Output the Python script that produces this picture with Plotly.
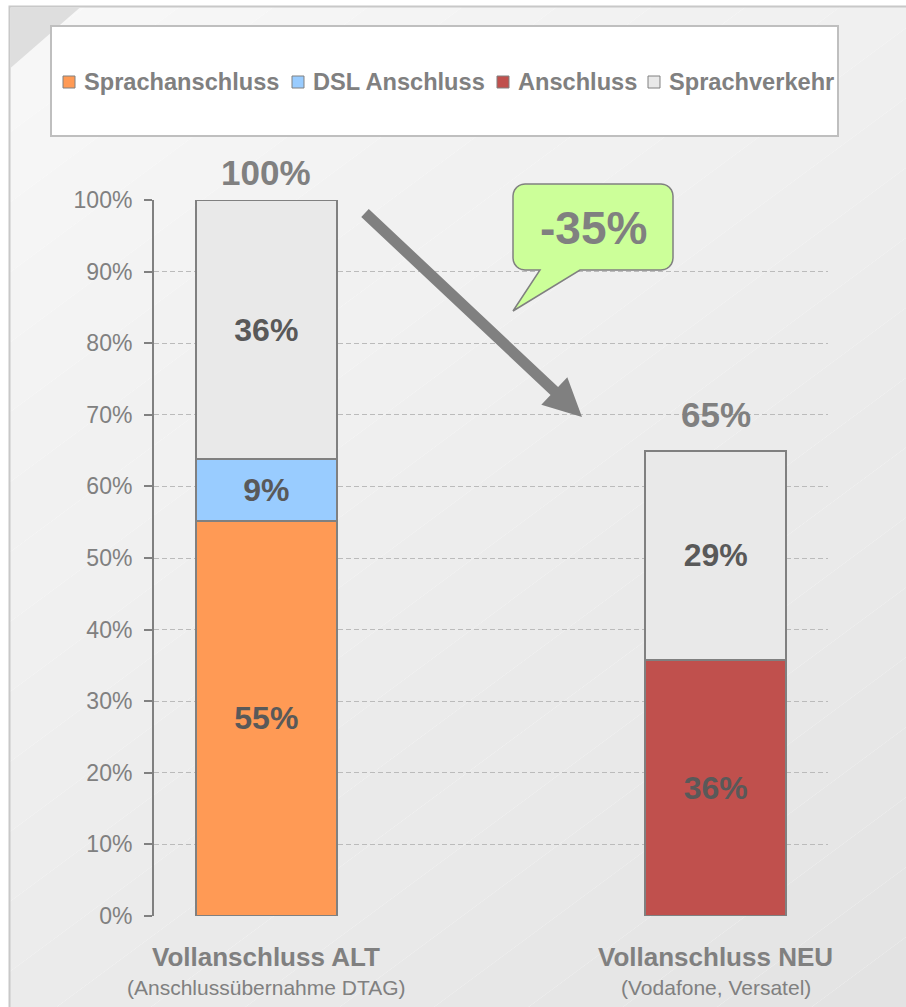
import plotly.graph_objects as go
import math

# ---------------- data ----------------
categories = ["Vollanschluss ALT", "Vollanschluss NEU"]
subtitles = ["(Anschlussübernahme DTAG)", "(Vodafone, Versatel)"]
series_names = ["Sprachanschluss", "DSL Anschluss", "Anschluss", "Sprachverkehr"]
sprachanschluss = [55.2, None]
dsl_anschluss = [8.6, None]
anschluss = [None, 35.7]
sprachverkehr = [36.2, 29.3]
change_label = "-35%"
y_tickvals = [0, 10, 20, 30, 40, 50, 60, 70, 80, 90, 100]
y_ticktext = ["0%", "10%", "20%", "30%", "40%", "50%", "60%", "70%", "80%", "90%", "100%"]

# ---------------- styles ----------------
colors = ["#FF9A55", "#99CCFF", "#C0504D", "#E9E9E9"]
FONT = "Liberation Sans, Arial, sans-serif"
GREY = "#808080"
DARK = "#595959"

W, H = 906, 1007
L, R, T, B = 154, 78, 200, 91
PW = W - L - R
PH = H - T - B
BOTTOM = H - B


def P(px, py):
    return (px - L) / PW, (BOTTOM - py) / PH


def path(points, close=True):
    s = ""
    for i, (px, py) in enumerate(points):
        x, y = P(px, py)
        s += ("M" if i == 0 else "L") + f"{x:.5f},{y:.5f} "
    return s + ("Z" if close else "")


fig = go.Figure()
series_values = [sprachanschluss, dsl_anschluss, anschluss, sprachverkehr]
for name, vals, col in zip(series_names, series_values, colors):
    fig.add_trace(go.Bar(
        x=[0, 1], y=vals, name=name, width=0.314,
        marker=dict(color=col, line=dict(color=GREY, width=2)),
        texttemplate="%{value:.0f}%", textposition="inside",
        insidetextanchor="middle", constraintext="none",
        textfont=dict(family=FONT, size=32, color=DARK, weight="bold"),
        showlegend=False, hoverinfo="skip",
    ))

shapes = []
# background gradient (diagonal bands)
n = 24
c0, c1 = 248, 227
for i in range(n):
    a = i / n - (0.5 if i == 0 else 0)
    b = (i + 1) / n + (0.5 if i == n - 1 else 0)

    def yl(c, x):
        return (c - 0.4 * x / W) * H / 0.6

    xs0, xs1 = -60, W + 60
    pts = [(xs0, yl(a, xs0)), (xs1, yl(a, xs1)), (xs1, yl(b, xs1)), (xs0, yl(b, xs0))]
    g = round(c0 + (c1 - c0) * (i + 0.5) / n)
    shapes.append(dict(type="path", path=path(pts), xref="paper", yref="paper",
                       fillcolor=f"rgb({g},{g},{g})", line=dict(width=0), layer="below"))
# white outside frame
for pts in ([(-20, -20), (9, -20), (9, H + 20), (-20, H + 20)],
            [(-20, -20), (W + 20, -20), (W + 20, 6), (-20, 6)]):
    shapes.append(dict(type="path", path=path(pts), xref="paper", yref="paper",
                       fillcolor="white", line=dict(width=0), layer="below"))
# frame border
shapes.append(dict(type="path", path=path([(9.5, H + 20), (9.5, 6.5), (W + 20, 6.5)], close=False),
                   xref="paper", yref="paper", line=dict(color="#C8C8C8", width=2), layer="below"))
# page corner
shapes.append(dict(type="path", path=path([(10.5, 7.5), (80, 7.5), (10.5, 68)]),
                   xref="paper", yref="paper", fillcolor="#DEDEDE", line=dict(width=0), layer="below"))
# legend box
shapes.append(dict(type="path", path=path([(51, 26), (838, 26), (838, 136), (51, 136)]),
                   xref="paper", yref="paper", fillcolor="white",
                   line=dict(color="#BFBFBF", width=2), layer="below"))

annotations = []
# legend entries
legend_sym_x = [63, 292, 497, 648]
for name, col, sx in zip(series_names, colors, legend_sym_x):
    shapes.append(dict(type="path", path=path([(sx, 76), (sx + 12, 76), (sx + 12, 88), (sx, 88)]),
                       xref="paper", yref="paper", fillcolor=col,
                       line=dict(color=GREY, width=1), layer="above"))
    x, y = P(sx + 19, 82)
    annotations.append(dict(x=x, y=y, xref="paper", yref="paper", text=name, showarrow=False,
                            xanchor="left", yanchor="middle",
                            font=dict(family=FONT, size=23.6, color=GREY, weight="bold")))

# totals above bars
totals = [sum(v for v in (s[i] for s in series_values) if v is not None) for i in range(2)]
total_shift = [28, 36]
for i, (tot, sh) in enumerate(zip(totals, total_shift)):
    annotations.append(dict(x=i, y=tot, xref="x", yref="y", text=f"{tot:.0f}%", showarrow=False,
                            yanchor="middle", yshift=sh,
                            font=dict(family=FONT, size=35, color=GREY, weight="bold")))

# category labels
for i, (cat, sub) in enumerate(zip(categories, subtitles)):
    annotations.append(dict(x=i, y=P(0, 957)[1], xref="x", yref="paper", text=cat, showarrow=False,
                            yanchor="middle",
                            font=dict(family=FONT, size=26, color=GREY, weight="bold")))
    annotations.append(dict(x=i, y=P(0, 987)[1], xref="x", yref="paper", text=sub, showarrow=False,
                            yanchor="middle",
                            font=dict(family=FONT, size=21, color=GREY)))

# arrow
tx, ty = 365, 213
hx, hy = 582, 417
dx, dy = hx - tx, hy - ty
ln = math.hypot(dx, dy)
ux, uy = dx / ln, dy / ln
nx, ny = -uy, ux
sw, hw, hl = 5.5, 19, 38
neck = (hx - ux * hl, hy - uy * hl)
arrow_pts = [
    (tx + nx * sw, ty + ny * sw),
    (neck[0] + nx * sw, neck[1] + ny * sw),
    (neck[0] + nx * hw, neck[1] + ny * hw),
    (hx, hy),
    (neck[0] - nx * hw, neck[1] - ny * hw),
    (neck[0] - nx * sw, neck[1] - ny * sw),
    (tx - nx * sw, ty - ny * sw),
]
shapes.append(dict(type="path", path=path(arrow_pts), xref="paper", yref="paper",
                   fillcolor=GREY, line=dict(width=0), layer="above"))

# callout
x0c, y0c, x1c, y1c, rr = 513, 184, 673, 270, 12


def arc(cx, cy, a0, a1, r, steps=6):
    out = []
    for k in range(steps + 1):
        t = math.radians(a0 + (a1 - a0) * k / steps)
        out.append((cx + r * math.cos(t), cy + r * math.sin(t)))
    return out


callout = []
callout += arc(x0c + rr, y0c + rr, 180, 270, rr)
callout += arc(x1c - rr, y0c + rr, 270, 360, rr)
callout += arc(x1c - rr, y1c - rr, 0, 90, rr)
callout += [(580, y1c), (513, 311), (540, y1c)]
callout += arc(x0c + rr, y1c - rr, 90, 180, rr)
shapes.append(dict(type="path", path=path(callout), xref="paper", yref="paper",
                   fillcolor="#CCFF99", line=dict(color=GREY, width=1.5), layer="above"))
cx, cy = P(593, 228)
annotations.append(dict(x=cx, y=cy, xref="paper", yref="paper", text=change_label, showarrow=False,
                        xanchor="center", yanchor="middle",
                        font=dict(family=FONT, size=46, color=GREY, weight="bold")))

fig.update_layout(
    width=W, height=H,
    margin=dict(l=L, r=R, t=T, b=B, pad=0),
    paper_bgcolor="white", plot_bgcolor="rgba(0,0,0,0)",
    barmode="stack", bargap=0,
    shapes=shapes, annotations=annotations,
    showlegend=False,
    xaxis=dict(range=[-0.25, 1.25], showticklabels=False, showgrid=False, zeroline=False,
               showline=False, fixedrange=True),
    yaxis=dict(range=[0, 100], tickvals=y_tickvals, ticktext=y_ticktext,
               showgrid=True, gridcolor="#BBBBBB", gridwidth=1, griddash="5px,3px",
               zeroline=False, showline=True, linecolor=GREY, linewidth=2,
               ticks="outside", ticklen=8, tickwidth=2, tickcolor=GREY,
               ticklabelstandoff=7,
               tickfont=dict(family=FONT, size=23, color=GREY), fixedrange=True),
    font=dict(family=FONT),
)

fig.write_html(
    "out.html",
    config={"displayModeBar": False, "staticPlot": True},
    post_script="document.body.style.margin='0px';document.body.style.overflow='hidden';",
)
